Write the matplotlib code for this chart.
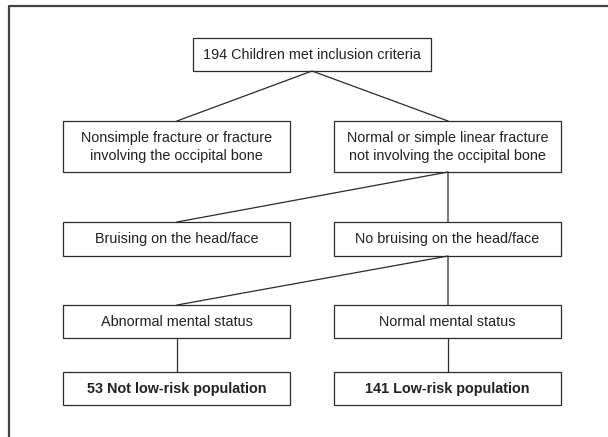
import matplotlib
matplotlib.use('Agg')
import matplotlib.pyplot as plt
from matplotlib.patches import Rectangle

plt.rcParams['font.family'] = ['Liberation Sans', 'DejaVu Sans']

# box labels, row by row (left, right)
top_label = '194 Children met inclusion criteria'
left_labels = ['Nonsimple fracture or fracture\ninvolving the occipital bone',
               'Bruising on the head/face',
               'Abnormal mental status',
               '53 Not low-risk population']
right_labels = ['Normal or simple linear fracture\nnot involving the occipital bone',
                'No bruising on the head/face',
                'Normal mental status',
                '141 Low-risk population']
bold_row = [False, False, False, True]

# layout (pixels)
row_top = [121, 222, 305, 372]
row_bot = [172, 256, 338, 405]
left_x = (63, 290)
right_x = (334, 561)
top_box = (193, 431, 38, 71)
edge = '#2a2a2a'
fs = 10.4

fig = plt.figure(figsize=(6.08, 4.37), dpi=100)
ax = fig.add_axes([0, 0, 1, 1])
ax.set_xlim(0, 608)
ax.set_ylim(437, 0)
ax.axis('off')

# outer frame (top and left only)
ax.plot([9, 9, 608], [437, 5.5, 5.5], color='#444444', lw=1.6)


def box(x0, x1, y0, y1, text, bold=False):
    ax.add_patch(Rectangle((x0, y0), x1 - x0, y1 - y0, fill=False, ec=edge, lw=0.9))
    ax.text((x0 + x1) / 2, (y0 + y1) / 2 + 0.5, text, ha='center', va='center',
            fontsize=fs, color='#222222', fontweight='bold' if bold else 'normal',
            linespacing=1.4)


box(*top_box, top_label)
for i in range(4):
    box(left_x[0], left_x[1], row_top[i], row_bot[i], left_labels[i], bold_row[i])
    box(right_x[0], right_x[1], row_top[i], row_bot[i], right_labels[i], bold_row[i])

lc = (left_x[0] + left_x[1]) / 2 + 0.5
rc = (right_x[0] + right_x[1]) / 2 + 0.5
tc = (top_box[0] + top_box[1]) / 2

# connectors
ax.plot([lc, tc, rc], [row_top[0], top_box[3], row_top[0]], color=edge, lw=0.9)
for i in range(2):
    ax.plot([lc, rc, rc], [row_top[i + 1], row_bot[i], row_top[i + 1]], color=edge, lw=0.9)
ax.plot([lc, lc], [row_bot[2], row_top[3]], color=edge, lw=0.9)
ax.plot([rc, rc], [row_bot[2], row_top[3]], color=edge, lw=0.9)

fig.savefig('out.png', dpi=100)
